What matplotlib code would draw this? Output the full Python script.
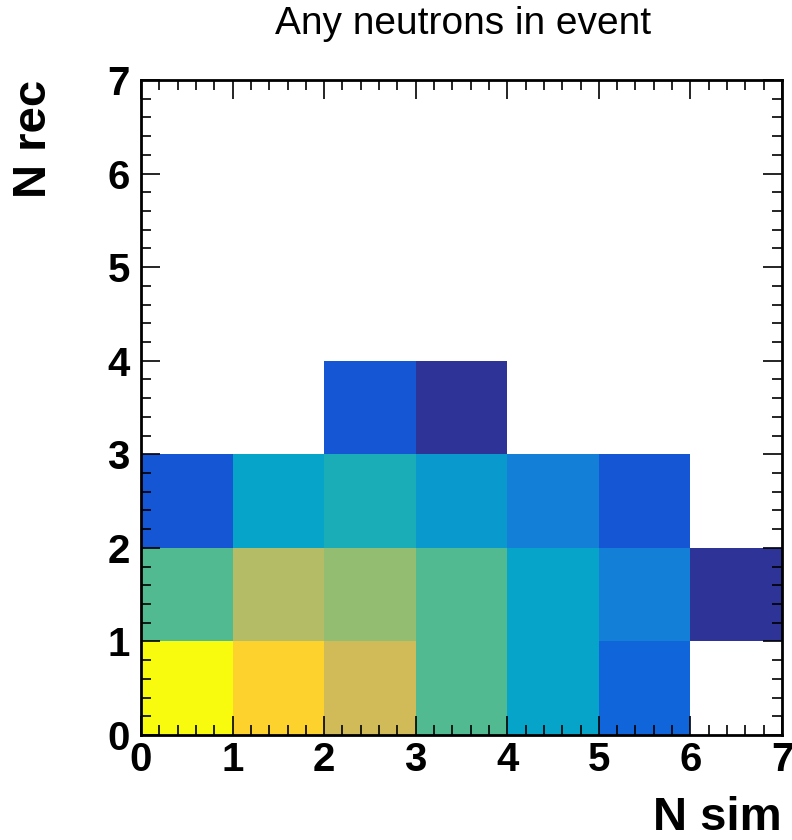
import numpy as np
import matplotlib
matplotlib.use("Agg")
import matplotlib.pyplot as plt
from matplotlib.colors import LinearSegmentedColormap, LogNorm
from matplotlib.ticker import MultipleLocator

# bin edges for N sim (x) and N rec (y)
x_edges = [0, 1, 2, 3, 4, 5, 6, 7]
y_edges = [0, 1, 2, 3, 4, 5, 6, 7]

# counts per row of N rec (index = N sim bin), 0 = empty
row_rec0 = [3000, 1275, 384, 74, 18, 3, 0]
row_rec1 = [74, 255, 163, 74, 18, 6, 1]
row_rec2 = [2, 18, 29, 13, 6, 2, 0]
row_rec3 = [0, 0, 2, 1, 0, 0, 0]
row_rec4 = [0, 0, 0, 0, 0, 0, 0]
row_rec5 = [0, 0, 0, 0, 0, 0, 0]
row_rec6 = [0, 0, 0, 0, 0, 0, 0]

title = "Any neutrons in event"
xlabel = "N sim"
ylabel = "N rec"

# ROOT kBird palette
stops = [0.0, 0.125, 0.25, 0.375, 0.5, 0.625, 0.75, 0.875, 1.0]
red = [0.2082, 0.0592, 0.0780, 0.0232, 0.1802, 0.5301, 0.8186, 0.9956, 0.9764]
green = [0.1664, 0.3599, 0.5041, 0.6419, 0.7178, 0.7492, 0.7328, 0.7862, 0.9832]
blue = [0.5293, 0.8684, 0.8385, 0.7914, 0.6425, 0.4662, 0.3499, 0.1968, 0.0539]
bird = LinearSegmentedColormap.from_list(
    "bird", [(s, (r, g, b)) for s, r, g, b in zip(stops, red, green, blue)], N=255)

counts = np.array([row_rec0, row_rec1, row_rec2, row_rec3,
                   row_rec4, row_rec5, row_rec6], dtype=float)
counts = np.ma.masked_where(counts <= 0, counts)

plt.rcParams["font.family"] = ["Liberation Sans", "DejaVu Sans"]

fig = plt.figure(figsize=(7.92, 8.40), dpi=100)
ax = fig.add_axes([141 / 792, 105 / 840, 641 / 792, 655 / 840])

ax.pcolormesh(x_edges, y_edges, counts, cmap=bird,
              norm=LogNorm(vmin=0.8, vmax=3000))

ax.set_xlim(0, 7)
ax.set_ylim(0, 7)

for s in ax.spines.values():
    s.set_linewidth(2)

ax.xaxis.set_major_locator(MultipleLocator(1))
ax.xaxis.set_minor_locator(MultipleLocator(0.2))
ax.yaxis.set_major_locator(MultipleLocator(1))
ax.yaxis.set_minor_locator(MultipleLocator(0.2))
ax.tick_params(which="both", direction="in", top=True, right=True, width=1.2)
ax.tick_params(which="major", length=14)
ax.tick_params(which="minor", length=7)
ax.tick_params(axis="x", which="major", labelsize=29, pad=4)
ax.tick_params(axis="y", which="major", labelsize=29, pad=8)
for lab in ax.get_xticklabels() + ax.get_yticklabels():
    lab.set_fontweight("bold")

fig.text(463 / 792, 1 - 24 / 840, title, ha="center", va="center", fontsize=28)
fig.text(782 / 792, 1 - 818 / 840, xlabel, ha="right", va="center",
         fontsize=34, fontweight="bold")
fig.text(34 / 792, 1 - 80 / 840, ylabel, ha="center", va="top", rotation=90,
         fontsize=34, fontweight="bold")

fig.savefig("out.png", dpi=100)
